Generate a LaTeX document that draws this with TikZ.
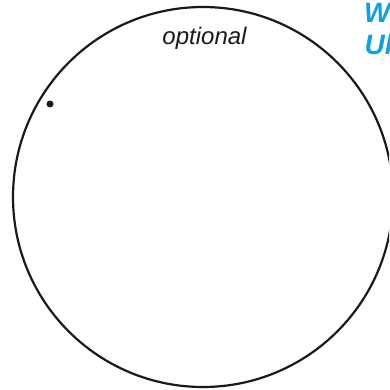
\documentclass[tikz,border=0pt]{standalone}
\usepackage{fontspec}
\usepackage{tikz}
\usepackage{xcolor}
\usetikzlibrary{positioning}
\newfontfamily\labelfont{Liberation Sans}
\definecolor{headblue}{HTML}{0FA2E2}
\definecolor{inkblack}{HTML}{1A1A1A}

\begin{document}
\begin{tikzpicture}[x=1pt, y=-1pt,
  ring/.style={draw=inkblack, circle, line width=2.2pt, minimum size=380pt, inner sep=0pt},
  spot/.style={circle, fill=inkblack, minimum size=7pt, inner sep=0pt},
  note/.style={font=\labelfont\itshape\fontsize{24}{28}\selectfont, text=inkblack, inner sep=0pt},
  head/.style={font=\labelfont\bfseries\itshape\fontsize{28}{32}\selectfont, text=headblue, inner sep=0pt, anchor=base west}]
  \useasboundingbox (0,0) rectangle (389,390);
  \clip (0,0) rectangle (389,390);
  \node[ring] (ring) at (203,197) {};
  \node[note, anchor=base] (opt) at (204.5,45) {optional};
  \node[spot] (dot) at (50,104) {};
  \node[head] (w) at (364,23) {W};
  \node[head] (u) at (364.5,55) {Ul};
\end{tikzpicture}
\end{document}
